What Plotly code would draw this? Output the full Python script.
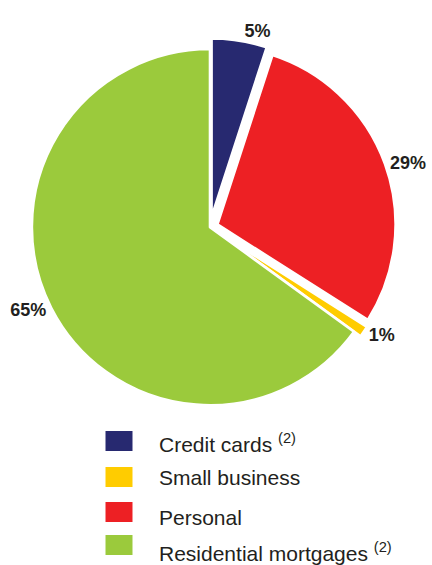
import plotly.graph_objects as go

# Slice data (clockwise from 12 o'clock)
categories = ["Credit cards", "Personal", "Small business", "Residential mortgages"]
shares = [5, 29, 1, 65]
pulls = [0.06, 0.045, 0.045, 0.0]
colors = {
    "Credit cards": "#272970",
    "Personal": "#ed2024",
    "Small business": "#ffcc00",
    "Residential mortgages": "#9bca3c",
}

# Legend (printed order)
legend_labels = ["Credit cards", "Small business", "Personal", "Residential mortgages"]
legend_notes = ["(2)", "", "", "(2)"]

W, H = 432, 565
FONT = "Liberation Sans, Arial, sans-serif"

fig = go.Figure()
fig.add_trace(go.Pie(
    labels=categories,
    values=shares,
    sort=False,
    direction="clockwise",
    rotation=0,
    pull=pulls,
    automargin=False,
    marker=dict(colors=[colors[c] for c in categories], line=dict(color="white", width=2.5)),
    texttemplate="%{value}%",
    textposition="outside",
    textfont=dict(family=FONT, size=18, color="#231f20", weight="bold"),
    showlegend=False,
    hoverinfo="label+percent",
    domain=dict(x=[0.049, 0.923], y=[0.264, 0.932]),
))

# Manual legend (pixel rows -> paper coords)
swatch_rows = [441, 477, 512, 545]
text_rows = [443, 477.5, 517.5, 551.5]
shapes = []
annotations = []
for i, lab in enumerate(legend_labels):
    yc = 1 - swatch_rows[i] / H
    shapes.append(dict(type="rect", xref="paper", yref="paper",
                       x0=105.5 / W, x1=132.5 / W, y0=yc - 10 / H, y1=yc + 10 / H,
                       fillcolor=colors[lab], line=dict(width=0)))
    txt = lab + (" <sup>" + legend_notes[i] + "</sup>" if legend_notes[i] else "")
    annotations.append(dict(xref="paper", yref="paper", x=156.5 / W, y=1 - text_rows[i] / H,
                            text=txt, showarrow=False, xanchor="left", yanchor="middle",
                            font=dict(family=FONT, size=21, color="#231f20")))

fig.update_layout(
    width=W, height=H,
    margin=dict(l=0, r=0, t=0, b=0),
    paper_bgcolor="white", plot_bgcolor="white",
    shapes=shapes, annotations=annotations,
)

fig.write_html("out.html")
